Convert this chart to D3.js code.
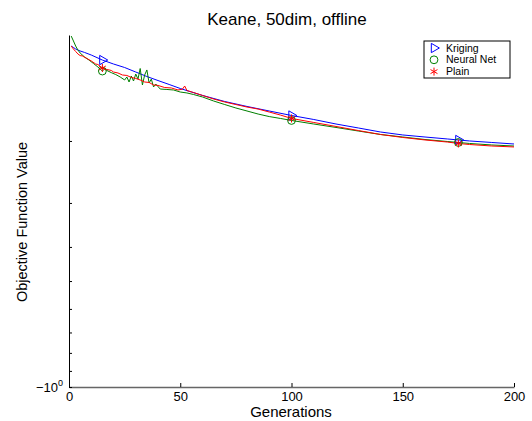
<!DOCTYPE html>
<html>
<head>
<meta charset="utf-8">
<script src="https://cdn.jsdelivr.net/npm/d3@7"></script>
<style>
	body { margin: 0; background: #fff; }
	svg { display: block; }
	text { font-family: "Liberation Sans", Arial, sans-serif; fill: #000; }
</style>
</head>
<body>
<svg width="532" height="421"></svg>
<script>
// values (objective value per generation, all negative)
const krigingGen = [1, 2, 3, 5, 7, 10, 15, 20, 25, 30, 35, 40, 45, 50, 55, 60, 70, 80, 90, 100, 110, 120, 130, 140, 150, 160, 170, 175, 180, 190, 200];
const krigingVal = [-0.1075, -0.1085, -0.1096, -0.1110, -0.1121, -0.1140, -0.1178, -0.1209, -0.1237, -0.1274, -0.1312, -0.1347, -0.1382, -0.1419, -0.1452, -0.1485, -0.1545, -0.1596, -0.1644, -0.1693, -0.1738, -0.1790, -0.1837, -0.1886, -0.1923, -0.1949, -0.1974, -0.1987, -0.2000, -0.2020, -0.2040];

const netGen = [1, 2, 3, 4, 5, 7, 9, 11, 13, 15, 16, 17, 19, 21, 23, 25, 26, 27, 28, 29, 30, 31, 32, 33, 34, 35, 36, 37, 38, 39, 41, 44, 47, 50, 53, 56, 60, 65, 70, 75, 80, 85, 90, 95, 100, 110, 120, 130, 140, 150, 160, 170, 175, 180, 190, 200];
const netVal = [-0.1007, -0.1040, -0.1075, -0.1103, -0.1125, -0.1155, -0.1178, -0.1205, -0.1233, -0.1266, -0.1249, -0.1261, -0.1279, -0.1295, -0.1316, -0.1342, -0.1316, -0.1360, -0.1308, -0.1351, -0.1291, -0.1334, -0.1245, -0.1387, -0.1299, -0.1257, -0.1369, -0.1334, -0.1405, -0.1378, -0.1424, -0.1428, -0.1433, -0.1452, -0.1461, -0.1476, -0.1500, -0.1540, -0.1576, -0.1612, -0.1644, -0.1677, -0.1705, -0.1726, -0.1749, -0.1790, -0.1831, -0.1874, -0.1917, -0.1949, -0.1981, -0.2007, -0.2020, -0.2033, -0.2053, -0.2067];

const plainGen = [1, 2, 3, 4, 5, 6, 8, 10, 12, 13, 15, 17, 19, 20, 22, 24, 26, 28, 30, 32, 34, 36, 38, 40, 43, 46, 49, 51, 52, 53, 56, 60, 65, 70, 75, 80, 85, 90, 95, 100, 110, 120, 130, 140, 150, 160, 170, 175, 180, 190, 200];
const plainVal = [-0.1075, -0.1096, -0.1114, -0.1132, -0.1144, -0.1147, -0.1166, -0.1185, -0.1209, -0.1213, -0.1241, -0.1253, -0.1261, -0.1274, -0.1282, -0.1299, -0.1303, -0.1320, -0.1329, -0.1342, -0.1360, -0.1364, -0.1387, -0.1391, -0.1410, -0.1414, -0.1433, -0.1425, -0.1396, -0.1438, -0.1457, -0.1485, -0.1520, -0.1550, -0.1576, -0.1602, -0.1623, -0.1655, -0.1688, -0.1726, -0.1772, -0.1819, -0.1868, -0.1917, -0.1955, -0.1987, -0.2014, -0.2033, -0.2047, -0.2067, -0.2080];

const markerGen = [15, 100, 175];
const seriesNames = ["Kriging", "Neural Net", "Plain"];
const xTicks = [0, 50, 100, 150, 200];
const yTicks = [-1, -0.9, -0.8, -0.7, -0.6, -0.5, -0.4, -0.3, -0.2];

const series = [
	{name: seriesNames[0], gen: krigingGen, val: krigingVal, color: "#0000ff", symbol: d3.symbolTriangle2, size: 62, rotate: 90},
	{name: seriesNames[1], gen: netGen, val: netVal, color: "#008000", symbol: d3.symbolCircle, size: 48, rotate: 0},
	{name: seriesNames[2], gen: plainGen, val: plainVal, color: "#ff0000", symbol: d3.symbolAsterisk, size: 45, rotate: 0}
];

const svg = d3.select("svg");

const x = d3.scaleLinear().domain([0, 200]).range([69, 514]);
const y = d3.scaleLog().domain([-1, -0.1]).range([387, 35]);

// title and labels
svg.append("text")
	.attr("x", 287)
	.attr("y", 25)
	.attr("text-anchor", "middle")
	.style("font-size", "17px")
	.text("Keane, 50dim, offline");

svg.append("text")
	.attr("x", 291)
	.attr("y", 417)
	.attr("text-anchor", "middle")
	.style("font-size", "15px")
	.text("Generations");

svg.append("text")
	.attr("transform", "translate(27,222) rotate(-90)")
	.attr("text-anchor", "middle")
	.style("font-size", "14.5px")
	.text("Objective Function Value");

// axes
const gX = svg.append("g")
	.attr("transform", "translate(0,387)")
	.call(d3.axisBottom(x).tickValues(xTicks).tickSizeInner(-4).tickSizeOuter(0).tickPadding(5));
gX.select(".domain").attr("stroke", "#666").attr("stroke-width", 1.4);
gX.selectAll(".tick line").attr("stroke", "#000");
gX.selectAll(".tick text").style("font-size", "13px").style("font-family", null);

const gY = svg.append("g")
	.attr("transform", "translate(69,0)")
	.call(d3.axisLeft(y).tickValues(yTicks).tickSizeInner(-3).tickSizeOuter(0).tickFormat(""));
gY.select(".domain").attr("stroke", "#000");

const lbl = gY.selectAll(".tick")
	.filter(d => d === -1)
	.append("text")
	.attr("x", -6)
	.attr("y", 4)
	.attr("text-anchor", "end")
	.style("font-size", "13px")
	.style("font-family", null);
lbl.append("tspan").text("\u221210");
lbl.append("tspan").attr("dy", -6).style("font-size", "9px").text("0");

// lines
const line = d3.line()
	.x(d => d[0])
	.y(d => d[1]);

const plot = svg.append("g");

for (const s of series) {
	const pts = s.gen.map((g, i) => [x(g), y(s.val[i])]);
	plot.append("path")
		.datum(pts)
		.attr("fill", "none")
		.attr("stroke", s.color)
		.attr("stroke-width", 1)
		.attr("d", line);
}

// markers
for (const s of series) {
	const sym = d3.symbol().type(s.symbol).size(s.size);
	plot.selectAll(null)
		.data(markerGen.filter(g => s.gen.includes(g)))
		.join("path")
		.attr("transform", g => `translate(${x(g)},${y(s.val[s.gen.indexOf(g)])}) rotate(${s.rotate})`)
		.attr("d", sym)
		.attr("fill", "none")
		.attr("stroke", s.color)
		.attr("stroke-width", 1);
}

// legend
const legend = svg.append("g").attr("transform", "translate(424,41)");
legend.append("rect")
	.attr("width", 86)
	.attr("height", 37)
	.attr("fill", "#fff")
	.attr("stroke", "#000")
	.attr("stroke-width", 1);

series.forEach((s, i) => {
	const row = legend.append("g").attr("transform", `translate(0,${7 + i * 11.8})`);
	row.append("path")
		.attr("transform", `translate(10,0) rotate(${s.rotate})`)
		.attr("d", d3.symbol().type(s.symbol).size(s.size))
		.attr("fill", "none")
		.attr("stroke", s.color);
	row.append("text")
		.attr("x", 22)
		.attr("dy", "0.35em")
		.style("font-size", "10.5px")
		.text(s.name);
});
</script>
</body>
</html>
